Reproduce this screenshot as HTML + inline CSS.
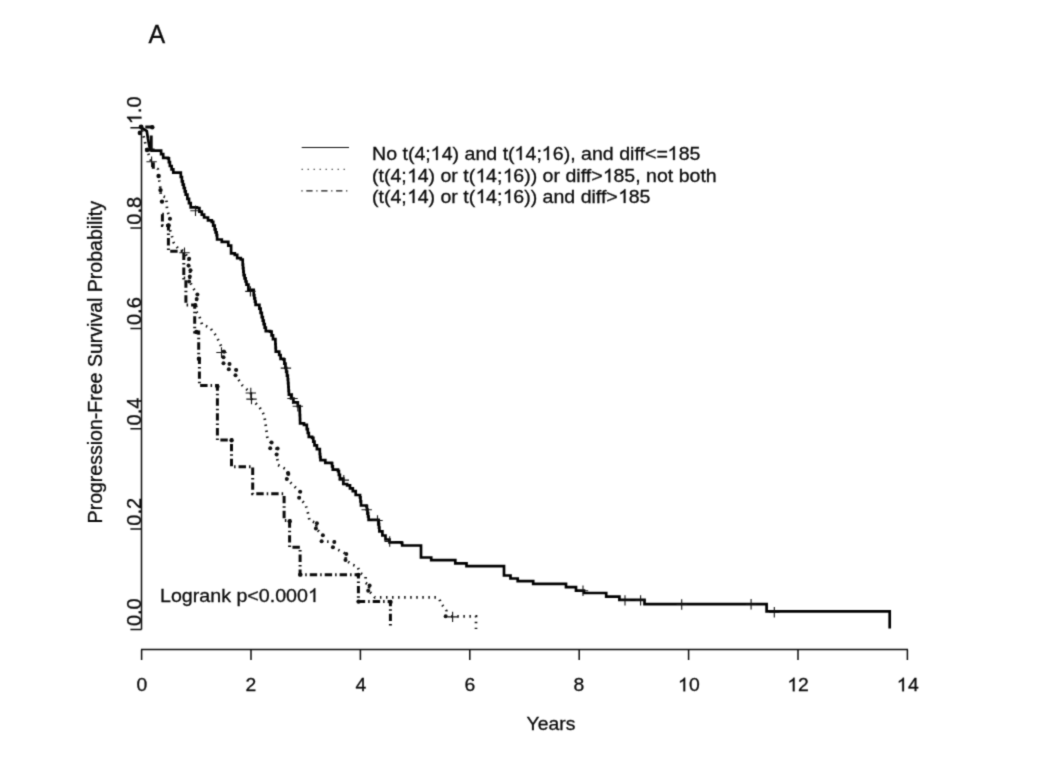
<!DOCTYPE html><html><head><meta charset="utf-8"><title>A</title><style>
html,body{margin:0;padding:0;background:#fff;}
#c{position:relative;width:1050px;height:763px;overflow:hidden;background:#fff;filter:grayscale(1) url(#bl);font-family:"Liberation Sans",sans-serif;color:#0a0a0a;}
.t{position:absolute;white-space:nowrap;line-height:normal;margin:0;padding:0;-webkit-text-stroke:0.3px #0a0a0a;}.h{color:transparent;-webkit-text-stroke:0 transparent;}
</style></head><body>
<svg width="0" height="0" style="position:absolute"><filter id="bl" x="0" y="0" width="1" height="1" color-interpolation-filters="sRGB"><feConvolveMatrix order="3" kernelMatrix="0.03 0.1 0.03 0.1 0.48 0.1 0.03 0.1 0.03" edgeMode="duplicate" preserveAlpha="true"/></filter></svg>
<div id="c">
<svg width="1050" height="763" viewBox="0 0 1050 763" style="position:absolute;left:0;top:0">
<g stroke="#0c0c0c" stroke-width="1.5" fill="none">
<path d="M141.0 649.4H908.0M141.6 649.4V660M251.0 649.4V660M360.4 649.4V660M469.8 649.4V660M579.2 649.4V660M688.6 649.4V660M798.0 649.4V660M907.4 649.4V660"/>
<path d="M141.5 127.7V629.5M130.4 629.5H141.5M130.4 529.1H141.5M130.4 428.8H141.5M130.4 328.4H141.5M130.4 228.1H141.5M130.4 127.7H141.5"/>
</g>
<g stroke="#111" stroke-width="1.2" fill="none">
<path d="M301.7 147.5H349"/>
<path d="M301.6 169.4H349" stroke-dasharray="1.2 4.8" stroke="#333"/>
<path d="M301.4 190.8H349" stroke-dasharray="1.2 3.7 6.3 3.7"/>
</g>
<path d="M141.5 127.7L146.8 131.0L148.0 139.0L149.8 148.5L151.5 150.6H159.0V150.6H161.1V154.2H163.2V157.9H168.0V158.4H168.9V162.2H169.9V166.0H171.6V169.3H173.3V172.7H179.6V172.7H180.8V177.0H181.9V181.3H182.8V184.7H183.8V188.0H184.8V191.3H185.7V194.7H187.4V198.9H189.0V203.2H190.7V207.4H197.0V208.0H199.4V211.7H201.8V214.6H204.1V217.5H208.0V220.4H211.8V221.8H213.2V225.6H214.7V229.4H215.6V232.3H216.6V235.2H217.1V239.5H221.8V241.9H228.3V245.7H231.1V253.4H234.8V254.8H237.2V258.2H240.8V259.5H242.7V264.6H243.0V268.1H243.4V271.6H243.7V275.1H244.6V278.3H245.6V281.5H246.5V284.7H248.4V289.9H253.7V295.2H254.3V298.4H255.0V301.6H255.6V304.8H259.4V308.6H260.6V312.9H261.8V317.2H262.8V320.7H263.7V324.2H264.7V327.7H265.8V331.1H270.1V331.6H271.6V335.4H273.0V339.2H275.4V344.0H275.6V347.9H275.8V351.7H279.2V355.0H280.6V358.8H283.5V359.3H284.4V363.6H285.4V367.9H286.2V371.7H287.0V375.6H287.8V379.4H288.1V383.2H288.4V387.0H288.6V390.9H288.9V394.7H291.1V398.5H293.4V402.4H297.8V406.2H299.7V411.0H299.8V415.1H300.0V419.3H300.1V423.4H304.0V424.8H306.8V429.1H307.8V433.0H308.8V436.8H312.1V437.8H313.3V441.6H314.5V445.4H316.9V449.2H319.8V454.0H320.1V457.1H320.5V460.2H325.3V462.9H331.5V463.2H332.1V466.4H332.8V469.6H338.0V471.1H338.9V474.9H339.9V478.7H343.3V479.7H343.3V484.0H347.1V485.4H350.0V488.3H352.8V491.1H355.7V495.0H360.0V497.4H360.5V501.4H361.0V505.5H366.4V506.2H366.9V509.6H367.5V513.0H368.1V516.5H368.6V519.9H378.3V520.2H378.7V523.9H379.0V527.7H379.4V531.4H382.4V535.5H385.5V539.5H389.5V542.4H401.5V542.8H402.2V545.5H421.0V557.5H431.2V560.2H455.3V563.3H466.5V566.1H504.0V575.5H510.5V578.5H517.7V581.2H533.2V583.9H566.0V587.1H576.0V590.6H584.0V593.0H606.2V596.6H619.4V599.9H644.5V604.2H766.6V611.4H889.7V628.6" stroke="#000" stroke-width="2.7" fill="none" stroke-linejoin="miter"/>
<path d="M141.5 127.7 L144.0 138.0 L147.0 150.0 L153.0 166.0 L157.9 169.2 L159.4 181.4 L160.1 185.6 L160.9 195.5 L166.2 197.4 L166.6 203.1 L167.0 208.8 L169.7 218.7 L168.6 225.4 L171.1 233.4 L173.8 242.8 L177.8 248.1 L183.8 251.5 L188.8 258.8 L188.8 265.5 L190.2 270.2 L189.8 276.5 L189.8 281.6 L192.5 286.9 L197.2 294.4 L196.7 299.0 L196.2 305.0 L196.4 311.7 L199.4 316.4 L202.0 324.4 L210.1 327.8 L216.1 335.8 L220.1 343.8 L223.7 351.8 L223.5 357.2 L223.5 363.2 L229.2 363.9 L228.8 369.2 L235.9 369.9 L235.5 375.2 L242.5 385.5 L250.8 393.0 L251.5 399.1 L259.5 407.1 L264.2 415.1 L266.2 428.5 L267.5 439.2 L271.0 442.5 L270.6 448.3 L277.2 448.8 L276.8 455.1 L278.1 465.0 L286.8 469.7 L287.7 473.0 L287.0 479.1 L299.8 491.8 L299.3 497.8 L305.5 504.5 L308.2 513.8 L309.5 520.5 L316.6 523.2 L316.0 528.5 L322.6 535.2 L321.9 541.4 L334.1 541.9 L333.2 547.3 L346.2 554.0 L345.6 560.1 L352.2 564.7 L357.5 566.7 L360.2 572.8 L365.6 576.8 L365.6 582.8 L369.4 585.5 L368.4 590.8 L372.2 594.1 L374.9 597.4 L436.0 597.4 L439.4 599.1 L441.1 603.7 L444.0 607.1 L446.3 610.6 L445.7 616.3 L476.0 616.3 L476.0 629.0" stroke="#111" stroke-width="2.7" fill="none" stroke-dasharray="1.5 4.55" stroke-dashoffset="3.4" stroke-linejoin="miter"/>
<g fill="#111"><circle cx="170.0" cy="218.7" r="2.0"/><circle cx="168.4" cy="225.4" r="2.0"/><circle cx="189.1" cy="258.8" r="2.0"/><circle cx="188.5" cy="265.5" r="2.0"/><circle cx="190.5" cy="270.2" r="2.0"/><circle cx="189.8" cy="276.5" r="2.0"/><circle cx="189.1" cy="281.6" r="2.0"/><circle cx="197.4" cy="294.4" r="2.0"/><circle cx="196.7" cy="299.0" r="2.0"/><circle cx="195.4" cy="305.0" r="2.0"/><circle cx="224.1" cy="351.8" r="2.0"/><circle cx="223.5" cy="357.2" r="2.0"/><circle cx="223.5" cy="363.2" r="2.0"/><circle cx="229.5" cy="363.9" r="2.0"/><circle cx="228.8" cy="369.2" r="2.0"/><circle cx="236.2" cy="369.9" r="2.0"/><circle cx="235.5" cy="375.2" r="2.0"/><circle cx="271.6" cy="442.5" r="2.0"/><circle cx="270.2" cy="448.3" r="2.0"/><circle cx="277.6" cy="448.5" r="2.0"/><circle cx="276.6" cy="454.5" r="2.0"/><circle cx="288.1" cy="473.0" r="2.0"/><circle cx="286.8" cy="479.1" r="2.0"/><circle cx="300.2" cy="491.8" r="2.0"/><circle cx="299.1" cy="497.8" r="2.0"/><circle cx="316.9" cy="523.2" r="2.0"/><circle cx="315.9" cy="528.5" r="2.0"/><circle cx="322.9" cy="535.2" r="2.0"/><circle cx="321.6" cy="541.2" r="2.0"/><circle cx="334.3" cy="541.9" r="2.0"/><circle cx="332.9" cy="547.2" r="2.0"/><circle cx="346.3" cy="553.9" r="2.0"/><circle cx="345.5" cy="560.1" r="2.0"/><circle cx="369.6" cy="585.5" r="2.0"/><circle cx="368.2" cy="590.8" r="2.0"/><circle cx="445.7" cy="616.3" r="2.0"/><circle cx="288.3" cy="473.9" r="2.0"/></g>
<path d="M162.3 214.3H162.4V225.4H168.4V251.2H183.8V278.0H185.9V305.0H194.7V332.0H198.7V358.8H199.4V385.6H217.4V440.1H231.5V466.7H252.7V493.8H284.1V520.5H289.6V547.3H300.1V574.8H358.4V601.5H390.4V626.0" stroke="#0a0a0a" stroke-width="3" fill="none" stroke-dasharray="7.4 3.02 1.5 3.02" stroke-linejoin="miter"/>
<g fill="#0a0a0a"><circle cx="152.3" cy="127.2" r="2.2"/><circle cx="147.0" cy="150.0" r="2.2"/><circle cx="158.6" cy="176.0" r="2.2"/><circle cx="160.5" cy="190.1" r="2.2"/><circle cx="162.0" cy="201.6" r="2.2"/><circle cx="168.6" cy="225.4" r="2.2"/><circle cx="196.5" cy="332.0" r="2.2"/><circle cx="198.9" cy="358.8" r="2.2"/><circle cx="217.4" cy="386.6" r="2.2"/><circle cx="231.6" cy="440.3" r="2.2"/><circle cx="289.7" cy="521.2" r="2.2"/><circle cx="300.2" cy="574.6" r="2.2"/><circle cx="358.3" cy="575.0" r="2.2"/><circle cx="358.6" cy="601.6" r="2.2"/><circle cx="390.5" cy="602.0" r="2.2"/></g>
<path d="M145.3 127H153M151.2 135.6V148.6M145.9 149.9H154.6M153.3 162.2V168.8" stroke="#0a0a0a" stroke-width="3" fill="none"/>
<g fill="#0a0a0a"><circle cx="141.1" cy="126.8" r="2.4"/><circle cx="139.9" cy="132.9" r="2.3"/></g>
<path d="M190.3 210.8H200.7M195.5 205.6V216.0M245.2 291.4H255.6M250.4 286.2V296.6M280.7 368.1H291.1M285.9 362.9V373.3M287.3 398.5H297.7M292.5 393.3V403.7M292.6 406.2H303.0M297.8 401.0V411.4M338.6 480.1H349.0M343.8 474.9V485.3M361.5 509.8H371.9M366.7 504.6V515.0M372.3 520.5H382.7M377.5 515.3V525.7M384.5 541.5H394.9M389.7 536.3V546.7M577.8 590.8H588.2M583.0 585.6V596.0M619.8 600.4H630.2M625.0 595.2V605.6M635.4 600.4H645.8M640.6 595.2V605.6M676.5 604.5H686.9M681.7 599.3V609.7M745.9 604.2H756.3M751.1 599.0V609.4M769.1 612.3H779.5M774.3 607.1V617.5M179.3 252.8H189.7M184.5 247.6V258.0M216.3 352.5H226.7M221.5 347.3V357.7M245.6 393.0H256.0M250.8 387.8V398.2M246.3 399.1H256.7M251.5 393.9V404.3M447.4 616.9H457.8M452.6 611.7V622.1M146.4 161.8H156.8M151.6 156.6V167.0" stroke="#111" stroke-width="1.1" fill="none"/>
</svg>
<div class="t" style="left:148.5px;top:20.17px;font-size:25px;transform:scaleX(1.0);transform-origin:0 0;">A</div>
<div class="t hl" style="left:371.7px;top:142.81px;font-size:19px;transform:scaleX(1.0307);transform-origin:0 0;">No t(4;<span class="h">1</span>4) and t(<span class="h">1</span>4;<span class="h">1</span>6), and diff&lt;=<span class="h">1</span>85</div>
<div class="t hl" style="left:372.4px;top:165.11px;font-size:19px;transform:scaleX(1.0288);transform-origin:0 0;">(t(4;<span class="h">1</span>4) or t(<span class="h">1</span>4;<span class="h">1</span>6)) or diff&gt;<span class="h">1</span>85, not both</div>
<div class="t hl" style="left:372.4px;top:185.71px;font-size:19px;transform:scaleX(1.0288);transform-origin:0 0;">(t(4;<span class="h">1</span>4) or t(<span class="h">1</span>4;<span class="h">1</span>6)) and diff&gt;<span class="h">1</span>85</div>
<div class="t hl" style="left:160.0px;top:584.80px;font-size:19px;transform:scaleX(1.0336);transform-origin:0 0;">Logrank p&lt;0.000<span class="h">1</span></div>
<div class="t" style="left:451.4px;width:200px;text-align:center;top:712.80px;font-size:19px;transform:scaleX(1.0184);transform-origin:50% 0;">Years</div>
<div class="t" style="left:41.7px;width:200px;text-align:center;top:674.10px;font-size:19px;transform:scaleX(1.0184);transform-origin:50% 0;">0</div>
<div class="t" style="left:151.1px;width:200px;text-align:center;top:674.10px;font-size:19px;transform:scaleX(1.0184);transform-origin:50% 0;">2</div>
<div class="t" style="left:260.5px;width:200px;text-align:center;top:674.10px;font-size:19px;transform:scaleX(1.0184);transform-origin:50% 0;">4</div>
<div class="t" style="left:369.9px;width:200px;text-align:center;top:674.10px;font-size:19px;transform:scaleX(1.0184);transform-origin:50% 0;">6</div>
<div class="t" style="left:479.3px;width:200px;text-align:center;top:674.10px;font-size:19px;transform:scaleX(1.0184);transform-origin:50% 0;">8</div>
<div class="t" style="left:588.7px;width:200px;text-align:center;top:674.10px;font-size:19px;transform:scaleX(1.0184);transform-origin:50% 0;"><span class="h">1</span>0</div>
<div class="t" style="left:698.1px;width:200px;text-align:center;top:674.10px;font-size:19px;transform:scaleX(1.0184);transform-origin:50% 0;"><span class="h">1</span>2</div>
<div class="t" style="left:807.5px;width:200px;text-align:center;top:674.10px;font-size:19px;transform:scaleX(1.0184);transform-origin:50% 0;"><span class="h">1</span>4</div>
<div class="t" style="left:0;top:0;font-size:19.55px;transform-origin:0 0;transform:translate(84.21px,523.40px) rotate(-90deg) scaleX(1.0);">Progression-Free Survival Probability</div>
<div class="t" style="left:0;top:0;font-size:20px;transform-origin:0 0;transform:translate(123.30px,626.10px) rotate(-90deg) scaleX(1.0);">0.0</div>
<div class="t" style="left:0;top:0;font-size:20px;transform-origin:0 0;transform:translate(123.30px,525.74px) rotate(-90deg) scaleX(1.0);">0.2</div>
<div class="t" style="left:0;top:0;font-size:20px;transform-origin:0 0;transform:translate(123.30px,425.38px) rotate(-90deg) scaleX(1.0);">0.4</div>
<div class="t" style="left:0;top:0;font-size:20px;transform-origin:0 0;transform:translate(123.30px,325.02px) rotate(-90deg) scaleX(1.0);">0.6</div>
<div class="t" style="left:0;top:0;font-size:20px;transform-origin:0 0;transform:translate(123.30px,224.66px) rotate(-90deg) scaleX(1.0);">0.8</div>
<div class="t" style="left:0;top:0;font-size:20px;transform-origin:0 0;transform:translate(123.30px,124.30px) rotate(-90deg) scaleX(1.0);"><span class="h">1</span>.0</div>
<svg width="1050" height="763" style="position:absolute;left:0;top:0" fill="#0a0a0a" stroke="#0a0a0a" stroke-width="32" stroke-linejoin="round"><path transform="translate(677.94,691.30) scale(0.00945,-0.00928)" d="M763 0H583V1147Q518 1085 412.5 1023T223 930V1104Q373 1174.5 485 1275T644 1470H763V0Z"/><path transform="translate(787.34,691.30) scale(0.00945,-0.00928)" d="M763 0H583V1147Q518 1085 412.5 1023T223 930V1104Q373 1174.5 485 1275T644 1470H763V0Z"/><path transform="translate(896.74,691.30) scale(0.00945,-0.00928)" d="M763 0H583V1147Q518 1085 412.5 1023T223 930V1104Q373 1174.5 485 1275T644 1470H763V0Z"/><path transform="translate(141.40,124.30) rotate(-90) scale(0.00977,-0.00977)" d="M763 0H583V1147Q518 1085 412.5 1023T223 930V1104Q373 1174.5 485 1275T644 1470H763V0Z"/><path transform="translate(430.47,159.99) scale(0.00957,-0.00928)" d="M763 0H583V1147Q518 1085 412.5 1023T223 930V1104Q373 1174.5 485 1275T644 1470H763V0Z"/><path transform="translate(514.31,159.99) scale(0.00957,-0.00928)" d="M763 0H583V1147Q518 1085 412.5 1023T223 930V1104Q373 1174.5 485 1275T644 1470H763V0Z"/><path transform="translate(541.56,159.99) scale(0.00957,-0.00928)" d="M763 0H583V1147Q518 1085 412.5 1023T223 930V1104Q373 1174.5 485 1275T644 1470H763V0Z"/><path transform="translate(667.51,159.99) scale(0.00957,-0.00928)" d="M763 0H583V1147Q518 1085 412.5 1023T223 930V1104Q373 1174.5 485 1275T644 1470H763V0Z"/><path transform="translate(407.14,182.30) scale(0.00956,-0.00928)" d="M763 0H583V1147Q518 1085 412.5 1023T223 930V1104Q373 1174.5 485 1275T644 1470H763V0Z"/><path transform="translate(475.59,182.30) scale(0.00956,-0.00928)" d="M763 0H583V1147Q518 1085 412.5 1023T223 930V1104Q373 1174.5 485 1275T644 1470H763V0Z"/><path transform="translate(502.79,182.30) scale(0.00956,-0.00928)" d="M763 0H583V1147Q518 1085 412.5 1023T223 930V1104Q373 1174.5 485 1275T644 1470H763V0Z"/><path transform="translate(602.95,182.30) scale(0.00956,-0.00928)" d="M763 0H583V1147Q518 1085 412.5 1023T223 930V1104Q373 1174.5 485 1275T644 1470H763V0Z"/><path transform="translate(407.14,202.90) scale(0.00956,-0.00928)" d="M763 0H583V1147Q518 1085 412.5 1023T223 930V1104Q373 1174.5 485 1275T644 1470H763V0Z"/><path transform="translate(475.59,202.90) scale(0.00956,-0.00928)" d="M763 0H583V1147Q518 1085 412.5 1023T223 930V1104Q373 1174.5 485 1275T644 1470H763V0Z"/><path transform="translate(502.79,202.90) scale(0.00956,-0.00928)" d="M763 0H583V1147Q518 1085 412.5 1023T223 930V1104Q373 1174.5 485 1275T644 1470H763V0Z"/><path transform="translate(618.18,202.90) scale(0.00956,-0.00928)" d="M763 0H583V1147Q518 1085 412.5 1023T223 930V1104Q373 1174.5 485 1275T644 1470H763V0Z"/><path transform="translate(307.97,601.99) scale(0.00960,-0.00928)" d="M763 0H583V1147Q518 1085 412.5 1023T223 930V1104Q373 1174.5 485 1275T644 1470H763V0Z"/></svg>
</div></body></html>
